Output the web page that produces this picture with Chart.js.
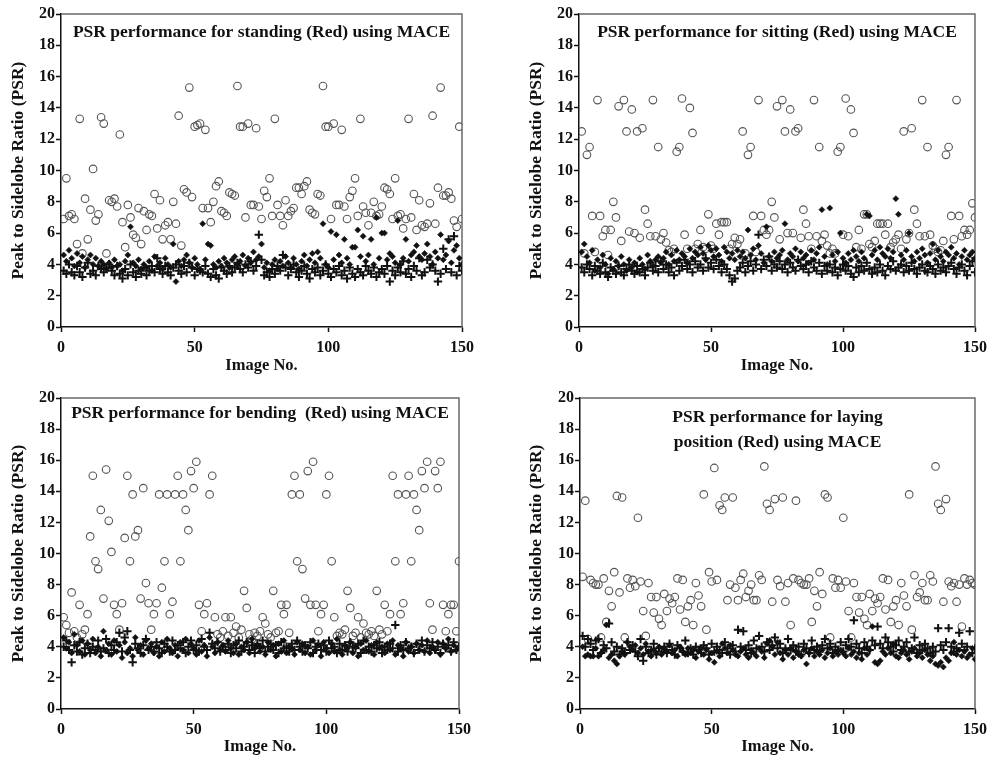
<!DOCTYPE html>
<html>
<head>
<meta charset="utf-8">
<script src="https://cdn.jsdelivr.net/npm/chart.js@4.4.1/dist/chart.umd.min.js"></script>
<style>
body { margin: 0; background: #fff; width: 993px; height: 761px; position: relative; overflow: hidden; }
canvas { position: absolute; }
</style>
</head>
<body>
<canvas id="c1" width="490" height="380" style="left:0px;top:0px"></canvas>
<canvas id="c2" width="475" height="380" style="left:518px;top:0px"></canvas>
<canvas id="c3" width="490" height="381" style="left:0px;top:380px"></canvas>
<canvas id="c4" width="475" height="381" style="left:518px;top:380px"></canvas>
<script>
// image numbers 1..150 on the x axis
var imageNo = [];
for (var i = 1; i <= 150; i++) imageNo.push(i);

var xTicks = [0, 50, 100, 150];
var yTicks = [0, 2, 4, 6, 8, 10, 12, 14, 16, 18, 20];
var xTitle = "Image No.";
var yTitle = "Peak to Sidelobe Ratio (PSR)";

// ---- standing ----
var standTitle = ["PSR performance for standing (Red) using MACE"];
var standCircle = [6.9,9.5,7.1,7.2,6.9,5.3,13.3,4.7,8.2,5.6,7.5,10.1,6.8,7.2,13.4,
  13.0,4.7,8.1,8.0,8.2,7.7,12.3,6.7,5.1,7.8,7.0,5.9,5.7,7.6,5.3,
  7.4,6.2,7.2,7.1,8.5,6.3,8.1,5.6,6.5,6.7,5.6,8.0,6.6,13.5,5.2,
  8.8,8.6,15.3,8.3,12.8,12.9,13.0,7.6,12.6,7.6,6.7,8.0,9.0,9.3,7.4,
  7.3,7.1,8.6,8.5,8.4,15.4,12.8,12.8,7.0,13.0,7.8,7.8,12.7,7.7,6.9,
  8.7,8.3,9.5,7.1,13.3,7.8,7.1,6.5,8.1,7.1,7.4,7.6,8.9,8.9,8.5,
  9.0,9.3,7.5,7.3,7.2,8.5,8.4,15.4,12.8,12.8,6.9,13.0,7.8,7.8,12.6,
  7.7,6.9,8.3,8.7,9.5,7.1,13.3,7.7,7.3,6.5,7.3,8.0,7.1,7.2,7.7,
  8.9,8.8,8.5,6.9,9.5,7.1,7.2,6.3,6.9,13.3,7.0,8.5,6.2,8.1,6.5,
  6.4,6.6,7.9,13.5,6.6,8.9,15.3,8.4,8.4,8.6,8.2,6.8,6.4,12.8,6.9];
var standPlus = [3.6,3.4,4.0,3.5,3.3,3.9,3.5,3.2,3.8,4.1,3.4,3.6,3.3,3.9,3.7,
  3.5,3.8,4.0,3.6,3.3,3.9,3.4,3.1,3.7,3.3,4.0,3.5,3.2,3.6,3.4,
  3.8,3.3,3.6,3.9,3.5,4.4,3.7,3.4,3.9,3.5,3.3,3.8,4.0,3.6,3.4,
  3.9,3.5,4.1,3.8,3.3,3.7,3.6,3.5,3.9,3.4,3.2,3.7,3.3,3.1,3.8,
  3.6,3.4,3.9,3.5,3.8,4.1,3.7,3.5,4.0,3.8,4.2,3.6,3.9,5.9,4.3,
  3.3,3.5,3.2,3.7,3.4,3.9,3.6,4.6,3.8,3.3,3.7,4.0,3.5,3.2,3.6,
  3.9,3.4,3.1,3.7,3.5,3.8,3.3,3.6,4.0,3.4,3.2,3.7,3.5,3.9,3.3,
  3.6,3.1,3.8,3.4,3.2,3.7,3.5,3.3,3.9,3.6,3.4,3.8,3.2,3.5,3.7,
  3.4,3.9,2.9,3.6,3.3,3.8,3.5,4.2,3.4,3.7,3.2,3.9,3.6,4.4,3.3,
  3.5,4.3,3.8,4.0,3.6,2.9,3.4,5.0,3.7,5.6,3.5,5.8,3.3,3.9,3.6];
var standDot = [4.6,4.2,4.9,4.4,3.9,4.7,4.1,4.5,3.8,4.3,4.6,4.0,4.4,3.9,4.2,
  4.0,3.7,4.1,3.8,4.3,3.9,4.0,3.6,4.2,4.6,6.4,4.1,3.9,4.3,3.7,
  4.0,3.8,4.2,3.6,4.5,3.9,4.1,3.7,4.4,4.0,3.8,5.3,2.9,4.2,3.9,
  4.3,4.6,4.1,3.8,4.4,4.0,3.7,6.6,4.3,5.3,5.2,4.0,3.8,4.2,3.9,
  4.4,4.1,3.8,4.3,4.5,4.0,4.2,4.6,3.9,4.4,4.1,4.8,4.3,4.5,5.3,
  3.8,4.1,3.6,4.0,4.3,3.7,4.2,3.9,4.5,4.1,3.8,4.4,4.0,3.7,4.2,
  4.6,3.9,4.3,4.7,4.1,4.8,4.4,6.6,4.0,3.8,6.1,4.3,5.9,4.6,4.1,
  5.6,4.4,4.0,5.1,5.1,6.2,4.5,5.8,4.2,4.6,5.6,4.0,7.0,4.4,6.0,
  6.0,4.3,4.7,4.5,4.1,6.8,4.0,4.4,5.6,4.2,4.6,4.8,5.2,4.5,4.3,
  4.7,5.3,4.5,4.0,4.8,4.4,5.9,4.3,4.6,5.5,4.1,4.9,5.2,4.4,4.0];

// ---- sitting ----
var sitTitle = ["PSR performance for sitting (Red) using MACE"];
var sitCircle = [12.5,4.7,11.0,11.5,7.1,4.8,14.5,7.1,5.8,6.2,4.6,6.2,8.0,7.0,14.1,
  5.5,14.5,12.5,6.1,13.9,6.0,12.5,5.7,12.7,7.5,6.6,5.8,14.5,5.8,11.5,
  5.6,6.0,5.4,4.9,4.8,5.0,11.2,11.5,14.6,5.9,5.0,14.0,12.4,5.0,5.3,
  6.2,5.1,5.0,7.2,5.2,5.0,6.6,5.9,6.7,6.7,6.7,5.0,5.3,5.7,5.3,
  5.6,12.5,4.7,11.0,11.5,7.1,4.8,14.5,7.1,6.2,5.9,6.2,8.0,7.0,14.1,
  5.6,14.5,12.5,6.0,13.9,6.0,12.5,12.7,5.7,7.5,6.6,5.8,5.0,14.5,5.8,
  11.5,5.5,5.9,5.2,4.7,5.0,4.7,11.2,11.5,5.9,14.6,5.8,13.9,12.4,5.1,
  6.2,5.0,7.2,7.2,5.3,5.1,5.5,6.6,6.6,6.6,5.9,6.6,5.1,5.4,5.6,
  5.9,5.0,12.5,5.6,6.0,12.7,7.5,6.6,5.8,14.5,5.8,11.5,5.9,5.2,5.0,
  4.8,4.9,5.5,11.0,11.5,7.1,5.6,14.5,7.1,5.8,6.2,5.9,6.2,7.9,7.0];
var sitPlus = [3.8,3.5,4.0,3.7,3.3,3.9,3.6,3.4,4.1,3.5,3.2,3.8,3.6,3.4,3.9,
  3.5,3.3,3.7,4.0,3.6,3.4,3.9,3.5,3.7,3.3,3.8,4.1,3.6,3.9,3.5,
  4.2,3.7,4.0,3.5,3.8,3.3,4.1,3.6,3.9,4.3,3.7,4.0,3.5,4.2,3.8,
  4.0,3.6,4.4,3.8,4.1,3.7,4.3,3.9,3.5,4.0,3.7,3.3,2.9,3.1,3.6,
  3.8,4.1,3.5,3.9,4.2,3.6,4.0,5.9,3.7,4.3,3.9,4.5,3.6,4.0,3.8,
  4.2,3.7,4.0,3.5,4.1,3.8,3.6,4.3,3.9,3.7,4.0,3.5,4.2,3.8,3.6,
  4.1,3.4,3.9,3.6,4.0,3.5,3.8,3.3,3.7,4.0,3.6,3.9,3.4,3.2,3.8,
  3.5,3.9,3.6,4.1,3.7,3.4,3.8,3.5,4.0,3.6,3.3,3.9,3.7,4.2,3.6,
  3.8,4.0,3.5,3.9,3.6,4.1,3.7,3.4,3.8,4.0,3.6,3.5,3.9,3.7,3.4,
  4.0,3.6,3.8,3.5,3.9,4.1,3.7,3.4,3.8,4.0,3.6,3.3,3.9,4.2,3.5];
var sitDot = [4.8,5.3,4.5,4.1,4.9,3.6,4.3,3.8,4.6,4.0,3.4,4.4,3.7,4.2,3.9,
  4.5,4.0,3.6,4.3,3.8,4.1,3.5,4.4,4.0,3.7,4.6,4.2,3.9,4.3,4.5,
  4.1,4.4,4.8,4.0,4.6,4.2,4.9,4.3,4.7,4.5,4.1,5.0,4.4,4.8,4.6,
  5.1,4.7,4.3,5.2,4.9,4.5,5.0,4.6,4.2,5.1,4.8,4.4,4.7,4.3,4.9,
  4.5,4.8,4.4,6.2,4.6,5.0,4.3,5.2,4.7,4.1,6.4,4.5,4.2,4.8,4.4,
  4.6,4.9,6.6,4.3,4.7,4.5,5.0,4.2,4.8,4.4,4.6,4.1,4.9,4.3,4.7,
  5.1,7.5,4.5,4.0,7.6,4.6,4.2,4.8,6.0,4.4,4.1,4.7,4.3,4.9,4.5,
  4.2,4.8,4.4,7.2,7.1,4.6,4.9,4.3,5.1,4.7,4.5,5.0,4.4,4.8,8.2,
  7.2,4.6,4.3,4.9,6.0,4.5,4.2,4.8,4.4,5.0,4.6,4.1,4.7,5.3,4.3,
  4.9,4.5,4.2,4.8,4.6,5.1,4.4,4.7,4.0,4.5,4.9,4.3,4.6,4.8,4.4];

// ---- bending ----
var bendTitle = ["PSR performance for bending  (Red) using MACE"];
var bendCircle = [5.9,5.4,4.9,7.5,5.0,4.6,6.7,4.8,5.1,6.1,11.1,15.0,9.5,9.0,12.8,
  7.1,15.4,12.1,10.1,6.7,6.1,5.1,6.8,11.0,15.0,9.5,13.8,11.1,11.5,7.1,
  14.2,8.1,6.8,5.1,6.1,6.8,13.8,7.8,9.5,13.8,6.1,6.9,13.8,15.0,9.5,
  13.8,12.8,11.5,15.3,14.2,15.9,6.7,5.0,6.1,6.8,13.8,15.0,5.9,4.8,4.6,
  5.0,5.9,4.7,5.9,4.9,5.3,4.6,5.1,7.6,6.5,4.8,4.5,4.9,4.7,5.0,
  5.9,5.5,4.8,4.6,7.6,4.9,5.0,6.7,6.1,6.7,4.9,13.8,15.0,9.5,13.8,
  9.0,7.1,15.3,6.7,15.9,6.7,5.0,6.1,6.7,13.8,15.0,9.5,5.9,4.7,4.9,
  4.8,5.1,7.6,6.5,4.7,4.9,5.9,4.6,5.5,4.9,4.8,5.0,4.7,7.6,5.1,
  4.8,6.7,5.0,6.1,15.0,9.5,13.8,6.1,6.8,13.8,15.0,9.5,13.8,12.8,11.5,
  15.3,14.2,15.9,6.8,5.1,15.3,14.2,15.9,6.7,5.0,6.1,6.7,6.7,5.0,9.5];
var bendPlus = [4.0,4.4,3.8,3.0,4.1,3.7,4.3,3.5,3.9,4.2,3.6,4.0,3.8,4.4,3.7,
  3.9,4.5,3.6,4.1,3.8,4.3,4.9,3.7,4.6,5.0,3.8,3.0,4.2,3.9,3.6,
  4.1,4.5,3.8,4.0,3.7,4.3,3.9,3.6,4.2,4.0,3.7,4.4,3.8,4.1,3.9,
  4.3,3.6,4.0,4.4,3.8,4.1,3.7,4.5,4.0,3.8,4.9,4.2,3.9,4.3,3.7,
  4.0,3.8,4.2,3.6,4.1,3.9,4.4,3.7,4.0,4.3,3.8,4.1,3.6,4.2,3.9,
  4.4,3.7,4.0,4.2,3.8,4.1,3.6,4.3,3.9,4.0,3.7,4.2,3.8,4.4,4.0,
  3.7,4.1,3.9,4.3,3.6,4.0,4.2,3.8,4.1,3.7,4.4,3.9,4.0,3.6,4.2,
  3.8,4.1,3.7,4.3,4.0,3.9,4.2,3.6,4.4,3.8,4.0,3.7,4.1,3.9,4.3,
  3.6,4.0,3.8,4.2,3.9,5.4,3.7,4.1,3.8,4.3,3.9,4.0,3.6,4.2,3.8,
  4.4,3.7,4.1,3.9,4.3,3.8,4.0,3.6,4.2,3.9,4.1,3.7,4.3,3.8,4.0];
var bendDot = [4.6,3.9,4.3,3.6,4.8,4.1,3.7,4.4,3.5,4.2,3.8,4.5,3.6,4.0,3.4,
  5.0,3.8,4.2,3.5,4.4,3.7,4.1,3.3,4.3,3.6,3.9,3.4,4.6,3.8,4.1,
  3.5,4.4,3.9,4.2,3.6,4.0,3.4,4.3,3.7,4.5,3.9,3.6,4.1,3.4,4.3,
  3.8,4.5,3.6,4.2,3.9,3.5,4.4,3.7,4.1,3.4,4.6,4.0,3.6,4.3,3.8,
  4.1,3.7,4.4,3.9,3.6,4.2,3.5,4.0,3.8,4.3,3.6,4.5,3.9,4.1,3.7,
  4.0,3.5,4.3,3.8,4.1,3.4,4.2,3.7,4.4,3.6,4.0,3.9,3.5,4.3,3.8,
  4.2,3.6,4.0,3.5,4.4,3.8,4.1,3.4,4.3,3.9,3.6,4.2,3.7,4.5,3.8,
  3.5,4.1,3.9,4.3,3.6,4.0,3.4,4.2,3.8,4.4,3.7,4.1,3.5,4.3,3.9,
  4.0,3.6,4.2,3.8,4.4,3.5,4.1,3.9,3.4,4.3,3.7,4.0,3.6,4.2,3.8,
  4.1,3.7,4.4,3.6,4.0,3.8,4.3,3.5,4.2,3.9,4.5,3.7,4.1,3.8,4.0];

// ---- laying ----
var layTitle = ["PSR performance for laying", "position (Red) using MACE"];
var layCircle = [8.5,13.4,4.5,8.3,8.1,8.0,8.0,4.6,8.4,5.6,7.6,6.6,8.8,13.7,7.5,
  13.6,4.6,8.4,7.8,8.3,7.9,12.3,8.2,6.3,4.7,8.1,7.2,6.2,7.2,5.8,
  5.4,7.4,6.3,7.1,6.8,7.2,8.4,6.4,8.3,5.6,6.6,7.0,5.4,8.1,7.3,
  6.6,13.8,5.1,8.8,8.2,15.5,8.3,13.1,12.8,13.6,7.0,8.0,13.6,7.8,7.0,
  8.3,8.7,7.2,7.6,8.0,7.0,7.0,8.6,8.3,15.6,13.2,12.8,6.9,13.5,8.3,
  7.9,13.6,6.9,8.1,5.4,8.4,13.4,8.3,8.1,8.0,8.0,8.4,5.6,7.6,6.6,
  8.8,7.4,13.8,13.6,4.6,8.4,7.8,8.3,7.8,12.3,8.2,6.3,4.6,8.1,7.2,
  6.2,7.2,5.8,5.4,7.4,6.3,7.1,6.8,7.2,8.4,6.4,8.3,5.6,6.6,7.0,
  5.4,8.1,7.3,6.6,13.8,5.1,8.6,7.2,7.5,8.1,7.0,7.0,8.6,8.2,15.6,
  13.2,12.8,6.9,13.5,8.2,7.9,8.1,6.9,8.0,5.3,8.4,8.0,8.3,8.1,8.0];
var layPlus = [4.7,4.0,4.5,4.2,3.8,4.4,4.5,3.6,4.1,3.9,5.5,4.3,3.7,4.0,3.5,
  3.9,3.6,4.3,3.8,4.1,3.7,3.4,4.5,3.1,4.0,3.6,3.8,4.2,3.5,3.9,
  3.7,4.0,3.6,4.2,3.8,3.5,4.1,3.9,3.7,4.4,3.6,3.9,3.5,4.0,3.8,
  3.6,4.1,3.9,3.5,4.2,3.7,4.0,3.8,3.6,4.3,3.9,3.5,4.1,3.7,5.1,
  4.0,5.0,3.8,4.1,3.6,4.4,3.9,4.7,4.0,3.7,4.3,3.8,4.1,4.6,3.9,
  4.2,3.6,3.9,4.5,3.8,4.1,3.7,4.0,3.5,4.2,3.9,3.6,4.4,3.8,4.0,
  3.7,4.1,4.5,3.9,4.2,3.6,4.0,3.8,4.3,3.7,4.1,4.5,4.0,5.7,4.2,
  3.9,3.6,4.3,4.0,3.8,4.4,4.1,5.3,4.2,3.9,4.6,4.3,4.0,3.7,4.1,
  4.4,3.8,4.0,4.3,3.7,3.9,4.6,3.6,4.1,3.8,4.2,3.9,3.6,4.0,3.7,
  5.2,4.1,3.8,4.3,5.2,4.0,3.7,3.9,4.9,4.2,3.8,4.0,5.0,3.6,3.9];
var layDot = [4.0,3.4,3.5,3.4,3.4,3.9,3.4,3.6,3.8,5.4,3.3,3.5,3.1,2.9,3.4,
  3.7,3.5,4.3,4.0,3.8,4.1,3.6,3.9,3.5,4.2,3.7,3.4,3.8,3.6,4.0,
  3.5,3.9,3.7,4.1,3.6,3.8,3.4,4.0,3.7,3.5,3.9,3.6,3.8,3.3,3.7,
  3.9,3.5,3.8,3.2,3.6,3.0,3.7,3.4,4.2,3.9,3.6,4.1,3.8,3.5,3.4,
  3.7,3.9,3.5,3.3,3.8,3.6,3.4,3.9,3.7,3.3,4.2,4.4,4.0,3.5,4.3,
  3.6,3.2,3.8,3.5,3.9,3.3,3.7,3.5,3.4,3.8,2.9,3.6,3.9,3.4,3.7,
  3.5,3.8,3.3,3.6,3.9,3.4,3.7,3.5,3.8,3.6,3.4,3.9,3.5,3.7,3.3,
  3.6,3.2,3.9,3.5,3.8,5.3,3.0,2.9,3.1,3.7,3.5,3.9,3.6,4.2,3.4,
  3.3,3.6,3.8,3.5,3.2,3.7,3.9,3.4,3.6,3.3,3.8,3.5,3.1,3.4,2.9,
  2.8,3.0,2.7,3.3,3.1,3.6,4.3,3.5,3.8,3.4,3.7,3.3,3.5,3.9,3.2];

var fontFam = "'Liberation Serif', 'Times New Roman', serif";

// gray frame on top and right of plot
var framePlugin = {
  id: 'frame',
  beforeDatasetsDraw: function(chart) {
    var a = chart.chartArea, c = chart.ctx;
    c.save();
    c.strokeStyle = '#6a6a6a';
    c.lineWidth = 1.5;
    c.beginPath();
    c.moveTo(a.left, a.top);
    c.lineTo(a.right, a.top);
    c.lineTo(a.right, a.bottom);
    c.stroke();
    c.restore();
  }
};

// panel heading drawn inside the plot
var headPlugin = {
  id: 'head',
  afterDatasetsDraw: function(chart, args, opts) {
    var a = chart.chartArea, c = chart.ctx;
    c.save();
    c.fillStyle = '#111';
    c.font = 'bold 17.5px ' + fontFam;
    c.textAlign = 'center';
    c.textBaseline = 'middle';
    opts.lines.forEach(function(t, k) {
      c.fillText(t, (a.left + a.right) / 2, a.top + opts.dy + k * 25);
    });
    c.restore();
  }
};

function pts(vals) {
  return vals.map(function(v, i) { return {x: imageNo[i], y: v}; });
}

function axisTicks(list) {
  return function(s) { s.ticks = list.map(function(v) { return {value: v}; }); };
}

function drawPanel(id, box, title, circ, plus, dots) {
  var ctx = document.getElementById(id);
  return new Chart(ctx, {
    type: 'scatter',
    data: {
      datasets: [
        {data: pts(dots), pointStyle: 'rectRot', pointRadius: 3, backgroundColor: '#111', borderColor: '#111', borderWidth: 0.6},
        {data: pts(plus), pointStyle: 'cross', pointRadius: 4.2, borderColor: '#111', borderWidth: 2},
        {data: pts(circ), pointStyle: 'circle', pointRadius: 3.8, borderColor: '#555', borderWidth: 1.1, backgroundColor: 'rgba(0,0,0,0)'}
      ]
    },
    options: {
      responsive: false,
      animation: false,
      devicePixelRatio: 1,
      layout: {padding: {left: 0, top: box.top, right: box.right, bottom: 0}},
      plugins: {
        legend: {display: false},
        tooltip: {enabled: false},
        head: {lines: title, dy: box.dy}
      },
      scales: {
        x: {
          type: 'linear', min: xTicks[0], max: xTicks[xTicks.length - 1],
          afterBuildTicks: axisTicks(xTicks),
          afterFit: function(s) { s.height = box.xh; },
          border: {display: true, color: '#111', width: 1.5},
          grid: {drawOnChartArea: false, drawTicks: true, tickLength: 5, tickColor: '#111', tickWidth: 1.5},
          ticks: {color: '#111', padding: 6, maxRotation: 0, autoSkip: false, font: {family: fontFam, size: 16, weight: 'bold'}},
          title: {display: true, text: xTitle, color: '#111', padding: {top: 0, bottom: 4}, font: {family: fontFam, size: 16.5, weight: 'bold'}}
        },
        y: {
          type: 'linear', min: yTicks[0], max: yTicks[yTicks.length - 1],
          afterBuildTicks: axisTicks(yTicks),
          afterFit: function(s) { s.width = box.yw; },
          border: {display: true, color: '#111', width: 1.5},
          grid: {drawOnChartArea: false, drawTicks: true, tickLength: 5, tickColor: '#111', tickWidth: 1.5},
          ticks: {color: '#111', padding: 1, autoSkip: false, font: {family: fontFam, size: 16, weight: 'bold'}},
          title: {display: true, text: yTitle, color: '#111', padding: {top: 8, bottom: 0}, font: {family: fontFam, size: 17.5, weight: 'bold'}}
        }
      }
    },
    plugins: [framePlugin, headPlugin]
  });
}

drawPanel('c1', {top: 14, right: 28, xh: 53, yw: 61, dy: 18}, standTitle, standCircle, standPlus, standDot);
drawPanel('c2', {top: 14, right: 15, xh: 53, yw: 61, dy: 18}, sitTitle, sitCircle, sitPlus, sitDot);
drawPanel('c3', {top: 18, right: 31, xh: 52, yw: 61, dy: 15}, bendTitle, bendCircle, bendPlus, bendDot);
drawPanel('c4', {top: 18, right: 15, xh: 52, yw: 62, dy: 19}, layTitle, layCircle, layPlus, layDot);
</script>
</body>
</html>
